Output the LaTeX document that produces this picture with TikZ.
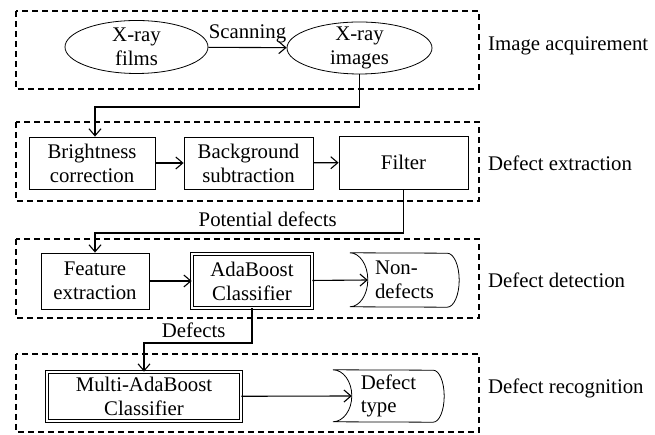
\documentclass[tikz,border=0pt]{standalone}
\usepackage{fontspec}
\setmainfont{Liberation Serif}
\usetikzlibrary{shapes.geometric,arrows.meta,positioning,calc}

% stored-data outline round a node: name, left depth, right radius, half height
\newcommand{\storeoutline}[4]{%
  \draw[outline] (#1.north west) arc[start angle=90,end angle=-90,x radius=#2,y radius=#4]
    -- ([xshift=-#3pt]#1.south east) arc[start angle=-90,end angle=90,x radius=#3,y radius=#4]
    -- cycle;}

\begin{document}
\begin{tikzpicture}[
    x=1pt, y=1pt,
    font=\fontsize{20.8}{23.8}\selectfont,
    outline/.style={line width=0.8pt},
    film/.style={ellipse, draw, outline, align=center, inner sep=0pt, inner ysep=-10pt},
    stepbox/.style={rectangle, draw, outline, align=center, inner sep=0pt},
    clsbox/.style={rectangle, draw, line width=0.7pt, double, double distance=2.5pt, align=center, inner sep=0pt},
    store/.style={rectangle, align=left, inner sep=0pt},
    stage/.style={draw, line width=1.1pt, dash pattern=on 6pt off 4pt},
    stagename/.style={anchor=west, inner sep=0pt},
    flow/.style={->, line width=1.1pt},
    >={Straight Barb[length=7pt,width=12pt]}
]
    \useasboundingbox (0,0) rectangle (655,435);

    % stages
    \draw[stage] (16,424) rectangle (479,346);
    \draw[stage] (16,313) rectangle (479,234);
    \draw[stage] (16,196) rectangle (479,117);
    \draw[stage] (16,81) rectangle (479,3);
    \node[stagename] (acq) at (488,389) {Image acquirement};
    \node[stagename] (ext) at (488,272) {Defect extraction};
    \node[stagename] (det) at (488,155) {Defect detection};
    \node[stagename] (rec) at (488,47) {Defect recognition};

    % image acquirement
    \node[film, minimum width=143, minimum height=53] (films) at (136.5,388) {X-ray\\films};
    \node[film, minimum width=145, minimum height=52] (images) at (359.5,387) {X-ray\\images};

    % defect extraction
    \node[stepbox, minimum width=126, minimum height=52] (bright) at (92,272) {Brightness\\correction};
    \node[stepbox, minimum width=129, minimum height=52] (backg) at (248.5,272) {Background\\subtraction};
    \node[stepbox, minimum width=129, minimum height=53] (filter) at (403.5,272.5) {Filter};

    % defect detection
    \node[stepbox, minimum width=108, minimum height=56] (feat) at (95,154) {Feature\\extraction};
    \node[clsbox, minimum width=120, minimum height=54] (ada) at (252,154) {AdaBoost\\Classifier};
    \node[store, minimum width=109, minimum height=54] (nondef) at (404.5,155) {Non-\\defects};
    \storeoutline{nondef}{18}{12}{27}

    % defect recognition
    \node[clsbox, minimum width=194, minimum height=49] (multi) at (144,38.5) {Multi-AdaBoost\\Classifier};
    \node[store, minimum width=111, minimum height=52] (dtype) at (388.5,39) {Defect\\type};
    \storeoutline{dtype}{19}{11}{26}

    % bends
    \coordinate (b0) at (95,328);
    \coordinate (b1) at (95,202);
    \coordinate (b2) at (144,92);

    % flow
    \draw[flow] (films) -- node[above=1pt] {Scanning} (images);
    \draw[flow] (images.south) |- (b0) -- (b0 |- bright.north);
    \draw[flow] (bright) -- (backg);
    \draw[flow] (backg) -- (filter);
    \draw[flow] (filter.south) |- node[above=2pt, pos=0.72] {Potential defects} (b1) -- (feat.north);
    \draw[flow] (feat) -- (ada);
    \draw[flow] (ada) -- ([xshift=18pt]nondef.west);
    \draw[flow] (ada.south) |- node[above=1pt, pos=0.77] {Defects} (b2) -- (multi.north);
    \draw[flow] (multi) -- ([xshift=19pt]dtype.west);
\end{tikzpicture}
\end{document}
